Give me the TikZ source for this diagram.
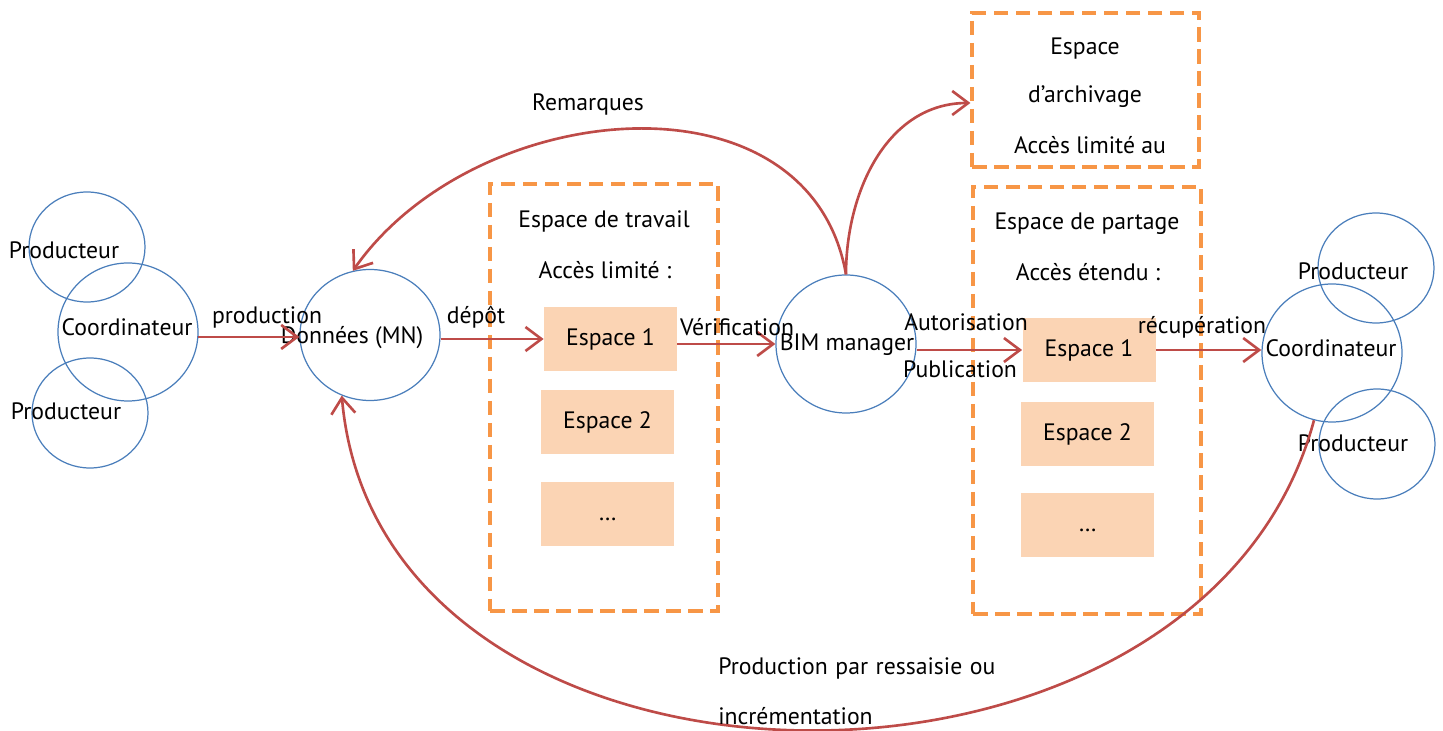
\documentclass[tikz,border=0pt]{standalone}
\usepackage{fontspec}
\setmainfont{PT Sans}
\usepackage{tikz}
\usetikzlibrary{arrows.meta,shapes.geometric}
\definecolor{Blue}{HTML}{4A7EBB}
\definecolor{Red}{HTML}{BE4B48}
\definecolor{Orange}{HTML}{F79646}
\definecolor{Peach}{HTML}{FBD4B4}

\begin{document}
\begin{tikzpicture}[x=0.2mm,y=0.2mm,font=\fontsize{13.5}{16}\selectfont,
  actor/.style={ellipse,draw=Blue,line width=0.7pt,inner sep=0pt,minimum width=23.2mm,minimum height=22mm},
  hub/.style={actor,minimum width=28mm,minimum height=27.6mm},
  zone/.style={draw=Orange,line width=1.8pt,dash pattern=on 2.9mm off 1.5mm,inner sep=0pt,minimum width=45.6mm,minimum height=85.4mm},
  space/.style={fill=Peach,inner sep=0pt,minimum width=26.6mm,minimum height=12.8mm,text height=1.7ex,text depth=.3ex},
  flow/.style={Red,line width=1.5pt,-{Straight Barb[length=3.2mm,width=4.8mm]}},
  lbl/.style={inner sep=0pt}]
  \useasboundingbox (0,0) rectangle (1443,731);
  \node[actor] (prodL1) at (87,484) {};
  \node[hub] (coordL) at (128,399) {};
  \node[actor] (prodL2) at (90,318) {};
  \node[hub,minimum height=26.2mm] (donnees) at (370,396) {};
  \node[hub] (bim) at (846,387) {};
  \node[hub] (coordR) at (1332,378) {};
  \node[actor] (prodR1) at (1376,463) {};
  \node[actor] (prodR2) at (1377,287) {};
  \node[lbl] (tProdL1) at (64,481) {Producteur};
  \node[lbl] (tCoordL) at (127,404) {Coordinateur};
  \node[lbl] (tProdL2) at (66,320) {Producteur};
  \node[lbl] (tDonnees) at (352,393) {Données (MN)};
  \node[lbl] (tBim) at (847,386) {BIM manager};
  \node[lbl] (tCoordR) at (1331,383) {Coordinateur};
  \node[lbl] (tProdR1) at (1353,460) {Producteur};
  \node[lbl] (tProdR2) at (1353,288) {Producteur};

  \node[zone] (travail) at (604,333.5) {};
  \node[lbl] (tTravail) at (604,510) {Espace de travail};
  \node[lbl] (tAccesT) at (605,461) {Accès limité :};
  \node[space] (espT1) at (610.5,392) {Espace 1};
  \node[space] (espT2) at (607.5,309) {Espace 2};
  \node[space] (espT3) at (607.5,217) {\dots};

  \node[zone,minimum width=45.4mm,minimum height=30.8mm] (archive) at (1085.5,641) {};
  \node[lbl] (tArch1) at (1085,682) {Espace};
  \node[lbl] (tArch2) at (1085,634) {d’archivage};
  \node[lbl] (tArch3) at (1090,586) {Accès limité au};

  \node[zone] (partage) at (1087,330.5) {};
  \node[lbl] (tPartage) at (1087,507) {Espace de partage};
  \node[lbl] (tAccesP) at (1088,459) {Accès étendu :};
  \node[space] (espP1) at (1089,381) {Espace 1};
  \node[space] (espP2) at (1087.5,297) {Espace 2};
  \node[space] (espP3) at (1087.5,206) {\dots};

  \draw[flow] (coordL.-4) -- (coordL.-4 -| donnees.west);
  \draw[flow] (donnees.east |- espT1.west) -- (espT1.west);
  \draw[flow] (espT1.east |- bim.west) -- (bim.west);
  \draw[flow] (bim.east |- espP1.west) -- (espP1.west);
  \draw[flow] (espP1.east) -- (espP1.east -| coordR.west);
  \draw[flow] (bim.north) to[out=100,in=55,looseness=1.1] (donnees.105);
  \draw[flow] (bim.north) to[out=90,in=180] ([yshift=-2.6mm]archive.west);
  \draw[flow] (coordR.-105) to[out=-105,in=-85,looseness=1.15] (donnees.-115);

  \node[lbl] (tProduction) at (267,414) {production};
  \node[lbl] (tDepot) at (476,414) {dépôt};
  \node[lbl] (tVerif) at (737,404) {Vérification};
  \node[lbl] (tAutor) at (966,409) {Autorisation};
  \node[lbl] (tPubli) at (960,362) {Publication};
  \node[lbl] (tRecup) at (1202,404) {récupération};
  \node[lbl] (tRemarques) at (588,627) {Remarques};
  \node[lbl,anchor=west] (tRessaisie) at (718,63) {Production\hspace{4.3pt}par\hspace{4.3pt}ressaisie\hspace{4.3pt}ou};
  \node[lbl,anchor=west] (tIncrem) at (718,15) {incrémentation};
\end{tikzpicture}
\end{document}
